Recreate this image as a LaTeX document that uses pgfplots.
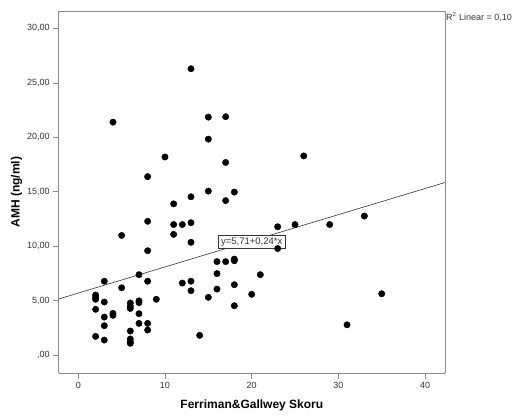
\documentclass[border=0pt]{standalone}
\usepackage{fontspec}
\setmainfont{Liberation Sans}
\usepackage{pgfplots}
\pgfplotsset{compat=1.18}
\definecolor{spssframe}{HTML}{8A8A8A}
\definecolor{spsstext}{HTML}{333333}

\begin{document}
\begin{tikzpicture}
\useasboundingbox (-58.7pt,-43.7pt) rectangle (453.3pt,373.3pt);
\begin{axis}[
  at={(0,0)}, anchor=south west,
  scale only axis,
  width=386.3pt, height=362.3pt,
  xmin=-2.26, xmax=42.3,
  ymin=-1.65, ymax=31.6,
  axis line style={spssframe, line width=0.9pt},
  axis x line*=bottom, axis y line*=left,
  tick style={spssframe, line width=0.8pt},
  tick align=outside,
  major tick length=5.5pt,
  xtick={0,10,20,30,40},
  xticklabels={0,10,20,30,40},
  ytick={0,5,10,15,20,25,30},
  yticklabels={{,00},{5,00},{10,00},{15,00},{20,00},{25,00},{30,00}},
  tick label style={font=\fontsize{9}{10}\selectfont, text=spsstext},
  xlabel={Ferriman\&Gallwey Skoru},
  ylabel={AMH (ng/ml)},
  xlabel style={font=\fontsize{12}{14}\selectfont\bfseries, yshift=-4pt},
  ylabel style={font=\fontsize{12}{14}\selectfont\bfseries, yshift=-2pt},
  clip=false,
]
% extra frame lines (top and right)
\draw[spssframe, line width=0.9pt] (rel axis cs:0,1) -- (rel axis cs:1,1) -- (rel axis cs:1,0);

\addplot[only marks, mark=*, mark size=3.2pt, black] coordinates {
  (13,26.3) (4,21.4) (15,21.86) (17,21.9) (15,19.84) (10,18.2) (17,17.7)
  (8,16.4) (13,14.55) (15,15.07) (18,14.98) (17,14.2) (11,13.9) (8,12.3)
  (11,12.0) (12,12.0) (13,12.17) (5,11.0) (11,11.1) (13,10.37) (8,9.6)
  (23,11.8) (23,9.8) (16,8.6) (17,8.6) (18,8.83) (18,8.68) (16,7.5)
  (21,7.4) (7,7.4) (3,6.8) (8,6.8) (13,6.8) (12,6.63) (5,6.2) (13,5.93)
  (16,6.08) (18,6.48) (20,5.6) (15,5.32) (18,4.55)
  (2,5.53) (2,5.32) (2,5.14) (2,4.22) (3,4.89) (3,3.51) (4,3.85) (4,3.67)
  (3,2.72) (2,1.74) (3,1.4) (6,4.8) (6,4.52) (6,4.3) (7,5.0) (7,4.83)
  (7,3.82) (9,5.14) (7,2.93) (8,2.93) (8,2.32) (6,2.23) (6,1.5) (6,1.25)
  (6,1.1) (14,1.83) (26,18.3) (25,12.0) (29,12.0) (33,12.78) (35,5.65)
  (31,2.8)
};

% fit line y = 5.71 + 0.24x
\addplot[black!80, line width=0.6pt] coordinates {(-2.26,5.17) (42.3,15.86)};

\node[draw=black!80, fill=white, line width=0.6pt, inner xsep=2.5pt, inner ysep=2pt,
      font=\fontsize{9.5}{10}\selectfont, text=spsstext]
  at (axis cs:20,10.4) {y=5,71+0,24*x};

\node[anchor=north west, inner sep=0pt, font=\fontsize{9}{10}\selectfont, text=spsstext]
  at ([xshift=1pt,yshift=-1pt]rel axis cs:1,1) {R\textsuperscript{2} Linear = 0,107};
\end{axis}
\end{tikzpicture}
\end{document}
